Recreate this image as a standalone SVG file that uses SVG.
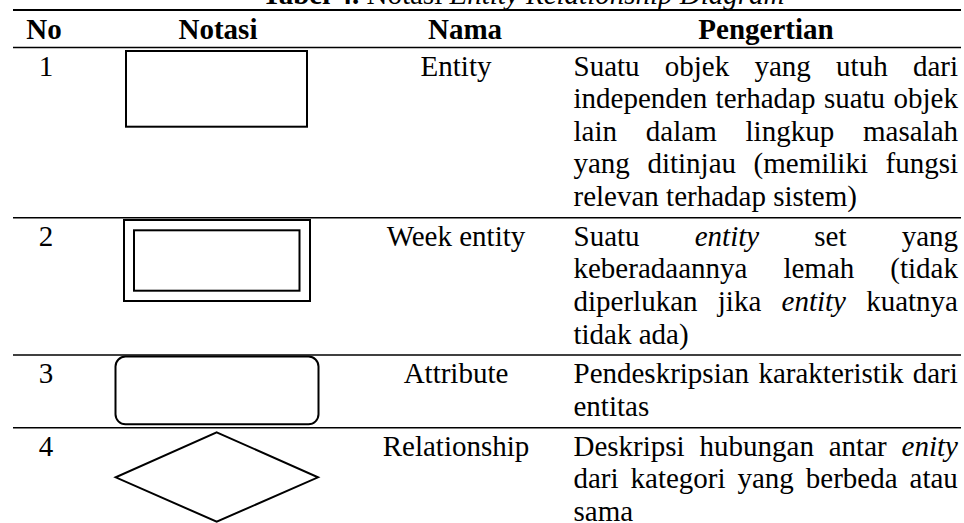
<svg xmlns="http://www.w3.org/2000/svg" width="964" height="523" viewBox="0 0 964 523">
<style>
.t{font-family:"Liberation Serif","Times New Roman",serif;font-size:29px;fill:#000}
.b{font-weight:bold}
.i{font-style:italic}
.c{text-anchor:middle}
.rule{stroke:#000;stroke-width:1.6;fill:none}
.shape{stroke:#000;stroke-width:2;fill:#fff}
</style>
<rect width="964" height="523" fill="#fff"/>
<text class="t" x="262" y="3.5"><tspan class="b">Tabel 4.</tspan> Notasi <tspan class="i">Entity Relationship Diagram</tspan></text>
<g id="rules">
<line class="rule" x1="13" y1="10" x2="961" y2="10" style="stroke-width:2.2"/>
<line class="rule" x1="13" y1="47.5" x2="961" y2="47.5"/>
<line class="rule" x1="13" y1="217.7" x2="961" y2="217.7"/>
<line class="rule" x1="13" y1="355" x2="961" y2="355"/>
<line class="rule" x1="13" y1="427.7" x2="961" y2="427.7"/>
</g>
<g id="header">
<text class="t b c" x="44" y="38.5">No</text>
<text class="t b c" x="218" y="38.5">Notasi</text>
<text class="t b c" x="465" y="38.5">Nama</text>
<text class="t b c" x="766" y="38.5">Pengertian</text>
</g>
<g id="row1">
<text class="t c" x="46" y="75.5">1</text>
<rect class="shape" x="126" y="51" width="181" height="75.7"/>
<text class="t c" x="456" y="75.5">Entity</text>
<text class="t" x="573.5" y="75.5" style="word-spacing:18px">Suatu objek yang utuh dari</text>
<text class="t" x="573.5" y="108.1" style="word-spacing:1.2px">independen terhadap suatu objek</text>
<text class="t" x="573.5" y="140.7" style="word-spacing:21.6px">lain dalam lingkup masalah</text>
<text class="t" x="573.5" y="173.3" style="word-spacing:10.3px">yang ditinjau (memiliki fungsi</text>
<text class="t" x="573.5" y="205.9">relevan terhadap sistem)</text>
</g>
<g id="row2">
<text class="t c" x="46" y="245.7">2</text>
<rect class="shape" x="124" y="220" width="186" height="81"/>
<rect class="shape" x="134" y="230.3" width="165.5" height="60.4"/>
<text class="t c" x="456" y="245.7">Week entity</text>
<text class="t" x="573.5" y="245.7" style="word-spacing:47.9px">Suatu <tspan class="i">entity</tspan> set yang</text>
<text class="t" x="573.5" y="278.3" style="word-spacing:28.8px">keberadaannya lemah (tidak</text>
<text class="t" x="573.5" y="310.9" style="word-spacing:13px">diperlukan jika <tspan class="i">entity</tspan> kuatnya</text>
<text class="t" x="573.5" y="343.5">tidak ada)</text>
</g>
<g id="row3">
<text class="t c" x="46" y="383">3</text>
<rect class="shape" x="115.5" y="356.5" width="203" height="67.8" rx="10" ry="10"/>
<text class="t c" x="456" y="383">Attribute</text>
<text class="t" x="573.5" y="383" style="word-spacing:2.1px">Pendeskripsian karakteristik dari</text>
<text class="t" x="573.5" y="415.6">entitas</text>
</g>
<g id="row4">
<text class="t c" x="46" y="455.7">4</text>
<polygon class="shape" points="216.7,432.3 318,477.3 216.7,521.7 115.7,477.3"/>
<text class="t c" x="456" y="455.7">Relationship</text>
<text class="t" x="573.5" y="455.7" style="word-spacing:7.6px">Deskripsi hubungan antar <tspan class="i">enity</tspan></text>
<text class="t" x="573.5" y="488.3" style="word-spacing:4.7px">dari kategori yang berbeda atau</text>
<text class="t" x="573.5" y="520.9">sama</text>
</g>
</svg>
